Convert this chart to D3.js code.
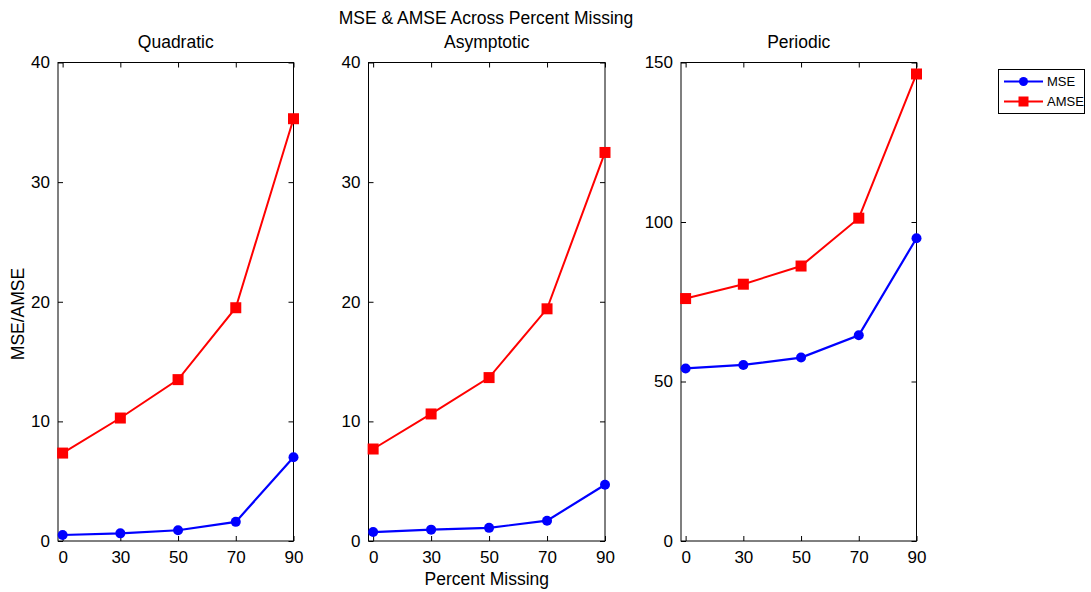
<!DOCTYPE html>
<html><head><meta charset="utf-8">
<script src="https://cdn.jsdelivr.net/npm/d3@7"></script>
<style>body{margin:0;background:#fff}svg{display:block}text{font-family:"Liberation Sans",Arial,sans-serif;fill:#000}</style>
</head><body><svg id="c" width="1091" height="592"></svg>
<script>
const categories = ["0","30","50","70","90"];
const panelTitles = ["Quadratic","Asymptotic","Periodic"];
const mseQuadratic = [0.5, 0.64, 0.9, 1.6, 7.0];
const amseQuadratic = [7.35, 10.28, 13.49, 19.5, 35.3];
const mseAsymptotic = [0.75, 0.95, 1.1, 1.7, 4.7];
const amseAsymptotic = [7.69, 10.62, 13.66, 19.41, 32.48];
const msePeriodic = [54.1, 55.2, 57.5, 64.5, 94.9];
const amsePeriodic = [76.0, 80.5, 86.2, 101.2, 146.4];
const yTicksQuadratic = [0,10,20,30,40];
const yTicksAsymptotic = [0,10,20,30,40];
const yTicksPeriodic = [0,50,100,150];
const yMax = [40, 40, 150];

(function(){
const panels = [
  {title: panelTitles[0], mse: mseQuadratic, amse: amseQuadratic, ticks: yTicksQuadratic, ymax: yMax[0], x0: 58, x1: 293.5},
  {title: panelTitles[1], mse: mseAsymptotic, amse: amseAsymptotic, ticks: yTicksAsymptotic, ymax: yMax[1], x0: 368.5, x1: 605},
  {title: panelTitles[2], mse: msePeriodic, amse: amsePeriodic, ticks: yTicksPeriodic, ymax: yMax[2], x0: 681, x1: 916.5}
];
const plotTop = 62.5, plotBottom = 541;
const svg = d3.select("#c");
const blue = "#0000ff", red = "#ff0000";

panels.forEach((p, pi) => {
  const idx = d3.range(1, categories.length + 1);
  const x = d3.scaleLinear().domain([0.92, 5]).range([p.x0, p.x1]);
  const y = d3.scaleLinear().domain([0, p.ymax]).range([plotBottom, plotTop]);
  const g = svg.append("g");
  g.append("rect").attr("x", p.x0).attr("y", plotTop).attr("width", p.x1 - p.x0).attr("height", plotBottom - plotTop)
    .attr("fill", "none").attr("stroke", "#000").attr("stroke-width", 1);
  const yl = g.append("g").attr("transform", `translate(${p.x0},0)`)
    .call(d3.axisLeft(y).tickValues(p.ticks).tickSize(-5).tickPadding(8).tickFormat(d3.format("d")));
  yl.select(".domain").remove();
  yl.selectAll("text").attr("font-size", 17).attr("font-family", "Liberation Sans, Arial, sans-serif");
  const yr = g.append("g").attr("transform", `translate(${p.x1},0)`)
    .call(d3.axisRight(y).tickValues(p.ticks).tickSize(-5).tickFormat(""));
  yr.select(".domain").remove();
  const xb = g.append("g").attr("transform", `translate(0,${plotBottom})`)
    .call(d3.axisBottom(x).tickValues(idx).tickSize(-5).tickPadding(10).tickFormat((d,i) => categories[i]));
  xb.select(".domain").remove();
  xb.selectAll("text").attr("font-size", 17).attr("font-family", "Liberation Sans, Arial, sans-serif");
  const xt = g.append("g").attr("transform", `translate(0,${plotTop})`)
    .call(d3.axisTop(x).tickValues(idx).tickSize(-5).tickFormat(""));
  xt.select(".domain").remove();
  g.selectAll(".tick line").attr("stroke", "#000");
  g.append("text").attr("x", (p.x0 + p.x1) / 2).attr("y", 48).attr("text-anchor", "middle")
    .attr("font-size", 17.5).text(p.title);

  const line = d3.line().x((d, i) => x(i + 1)).y(d => y(d));
  g.append("path").attr("d", line(p.amse)).attr("fill", "none").attr("stroke", red).attr("stroke-width", 2);
  g.selectAll(".sq").data(p.amse).enter().append("rect")
    .attr("x", (d, i) => x(i + 1) - 5.5).attr("y", d => y(d) - 5.5)
    .attr("width", 11).attr("height", 11).attr("fill", red);
  g.append("path").attr("d", line(p.mse)).attr("fill", "none").attr("stroke", blue).attr("stroke-width", 2.2);
  g.selectAll(".ci").data(p.mse).enter().append("circle")
    .attr("cx", (d, i) => x(i + 1)).attr("cy", d => y(d)).attr("r", 5).attr("fill", blue);
});

svg.append("text").attr("x", 486).attr("y", 24).attr("text-anchor", "middle").attr("font-size", 17.5)
  .text("MSE & AMSE Across Percent Missing");
svg.append("text").attr("x", (368.5 + 605) / 2).attr("y", 585).attr("text-anchor", "middle").attr("font-size", 17.5)
  .text("Percent Missing");
svg.append("text").attr("transform", `translate(24,314) rotate(-90)`).attr("text-anchor", "middle")
  .attr("font-size", 17.5).text("MSE/AMSE");

const lg = svg.append("g");
lg.append("rect").attr("x", 998.5).attr("y", 69.5).attr("width", 86).attr("height", 44)
  .attr("fill", "#fff").attr("stroke", "#000").attr("stroke-width", 1);
const legendItems = [{name: "MSE", color: blue, shape: "circle"}, {name: "AMSE", color: red, shape: "square"}];
legendItems.forEach((it, i) => {
  const yy = 81.5 + i * 20;
  lg.append("line").attr("x1", 1004).attr("x2", 1043).attr("y1", yy).attr("y2", yy)
    .attr("stroke", it.color).attr("stroke-width", 2);
  if (it.shape === "circle") lg.append("circle").attr("cx", 1023.5).attr("cy", yy).attr("r", 4.5).attr("fill", it.color);
  else lg.append("rect").attr("x", 1018.5).attr("y", yy - 5).attr("width", 10).attr("height", 10).attr("fill", it.color);
  lg.append("text").attr("x", 1047).attr("y", yy + 4.5).attr("font-size", 13).text(it.name);
});
})();
</script></body></html>
